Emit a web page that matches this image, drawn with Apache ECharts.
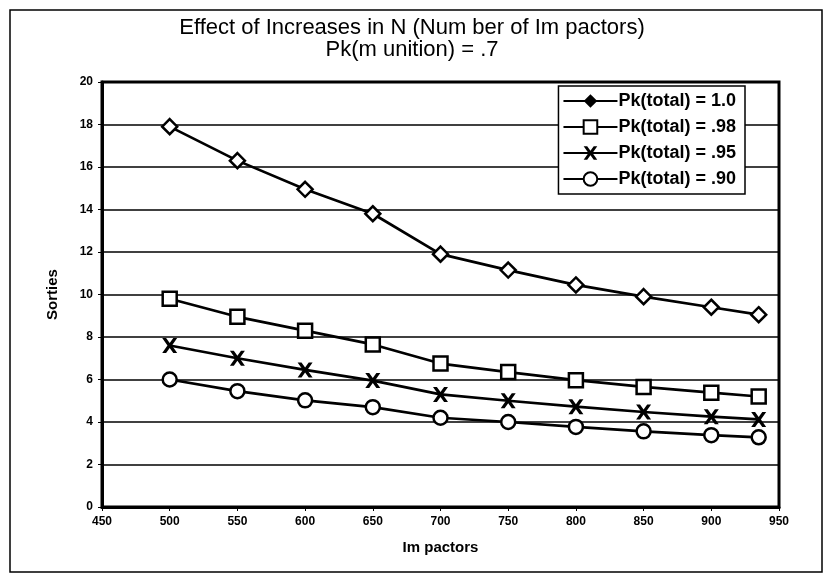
<!DOCTYPE html>
<html>
<head>
<meta charset="utf-8">
<script src="https://cdn.jsdelivr.net/npm/echarts@6/dist/echarts.min.js"></script>
<style>
html,body{margin:0;padding:0;background:#fff;}
#chart{width:824px;height:582px;}
</style>
</head>
<body>
<div id="chart"></div>
<script>
var impactors = [500, 550, 600, 650, 700, 750, 800, 850, 900, 935];
var pk100 = [17.9, 16.3, 14.95, 13.8, 11.9, 11.15, 10.45, 9.9, 9.4, 9.05];
var pk098 = [9.8, 8.95, 8.3, 7.65, 6.75, 6.35, 5.97, 5.65, 5.38, 5.2];
var pk095 = [7.6, 7.0, 6.45, 5.95, 5.3, 5.0, 4.72, 4.47, 4.25, 4.12];
var pk090 = [6.0, 5.45, 5.02, 4.7, 4.2, 4.0, 3.77, 3.56, 3.38, 3.28];
var seriesNames = ['Pk(total) = 1.0', 'Pk(total) = .98', 'Pk(total) = .95', 'Pk(total) = .90'];
var xTicks = {min: 450, max: 950, interval: 50};
var yTicks = {min: 0, max: 20, interval: 2};

var font = "'Liberation Sans Narrow', 'Liberation Sans', Arial, sans-serif";
var fontW = "'Liberation Sans', Arial, sans-serif";
var crossPath = 'path://M0,0 L2.6,0 L5,3 L7.4,0 L10,0 L6.5,4.5 L10,9 L7.4,9 L5,6 L2.6,9 L0,9 L3.5,4.5 Z';

function pairs(ys){ return impactors.map(function(x,i){ return [x, ys[i]]; }); }

function mkSeries(name, data, symbol, size, fill){
  return {
    name: name, type: 'line', data: pairs(data),
    symbol: symbol, symbolSize: size, showSymbol: true,
    lineStyle: {color: '#000', width: 2.7},
    itemStyle: {color: fill, borderColor: '#000', borderWidth: fill === '#000' ? 0 : 2.5},
    emphasis: {disabled: true},
    animation: false, z: 3
  };
}

var chart = echarts.init(document.getElementById('chart'), null, {renderer: 'canvas'});
chart.setOption({
  backgroundColor: '#fff',
  animation: false,
  title: [{
    text: 'Effect of Increases in N (Num ber of Im pactors)\nPk(m unition) = .7',
    left: 'center', top: 12,
    textStyle: {fontFamily: font, fontSize: 22, fontWeight: 'normal', color: '#000', lineHeight: 22}
  }],
  graphic: [{
    type: 'rect', shape: {x: 10, y: 10, width: 812, height: 562},
    style: {fill: 'none', stroke: '#000', lineWidth: 1.5}, silent: true, z: 0
  }],
  grid: {left: 102, right: 45, top: 82, bottom: 75, show: true, borderColor: '#000', borderWidth: 3, backgroundColor: 'transparent'},
  legend: {
    right: 79, top: 86, orient: 'vertical',
    itemWidth: 54, itemHeight: 17, itemGap: 8,
    padding: [6, 9, 6, 4],
    backgroundColor: '#fff', borderColor: '#000', borderWidth: 1.5,
    textStyle: {fontFamily: fontW, fontSize: 18, fontWeight: 'bold', color: '#000', padding: [0, 0, 0, -4]},
    data: [
      {name: seriesNames[0], itemStyle: {color: '#000', borderWidth: 0}},
      {name: seriesNames[1]},
      {name: seriesNames[2]},
      {name: seriesNames[3]}
    ]
  },
  xAxis: {
    type: 'value', min: xTicks.min, max: xTicks.max, interval: xTicks.interval,
    name: 'Im pactors', nameLocation: 'middle', nameGap: 33,
    nameTextStyle: {fontFamily: fontW, fontSize: 15, fontWeight: 'bold', color: '#000'},
    axisLine: {show: true, lineStyle: {color: '#000', width: 3}},
    axisTick: {show: true, length: 4, lineStyle: {color: '#000', width: 1}},
    axisLabel: {fontFamily: fontW, fontSize: 12, fontWeight: 'bold', color: '#000', margin: 9},
    splitLine: {show: false}
  },
  yAxis: {
    type: 'value', min: yTicks.min, max: yTicks.max, interval: yTicks.interval,
    name: 'Sorties', nameLocation: 'middle', nameGap: 42, nameRotate: 90,
    nameTextStyle: {fontFamily: fontW, fontSize: 15, fontWeight: 'bold', color: '#000'},
    axisLine: {show: true, lineStyle: {color: '#000', width: 3}},
    axisTick: {show: true, length: 4, lineStyle: {color: '#000', width: 1}},
    axisLabel: {fontFamily: fontW, fontSize: 12, fontWeight: 'bold', color: '#000', margin: 9},
    splitLine: {show: true, lineStyle: {color: '#000', width: 1.5}}
  },
  series: [
    mkSeries(seriesNames[0], pk100, 'diamond', 15, '#fff'),
    mkSeries(seriesNames[1], pk098, 'rect', 14, '#fff'),
    mkSeries(seriesNames[2], pk095, crossPath, 15, '#000'),
    mkSeries(seriesNames[3], pk090, 'circle', 14, '#fff')
  ]
});
</script>
</body>
</html>
